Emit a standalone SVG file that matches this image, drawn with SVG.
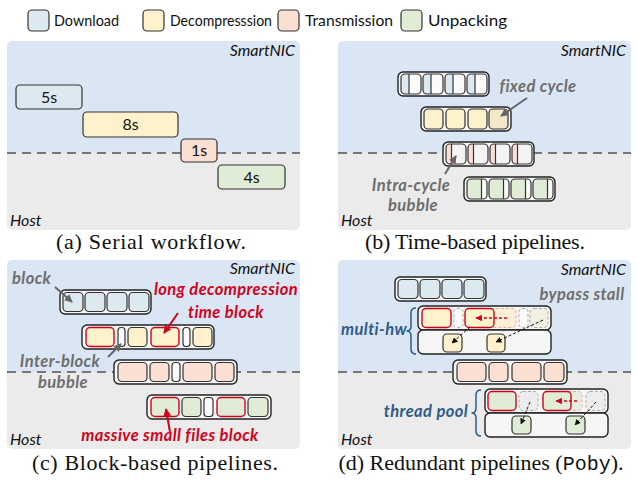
<svg xmlns="http://www.w3.org/2000/svg" width="637" height="480" viewBox="0 0 637 480">
<style>
.bgT{fill:#dbe6f4}
.bgB{fill:#ebebeb}
.dash{stroke:#777;stroke-width:2.2;stroke-dasharray:9 6;fill:none}
.cell{stroke:#333;stroke-width:1.2}
.dl{fill:#dde9f0}
.dc{fill:#fdf2cb}
.tr{fill:#fbdfd2}
.up{fill:#e0ecd6}
.wh{fill:#fafafa}
.red{stroke:#d0021b;stroke-width:1.4}
.cont{fill:#f6f6f7;stroke:#222;stroke-width:1.4}
.ghost{stroke:#aaa;stroke-width:1;stroke-dasharray:3 2}
.ghostR{stroke:#f0a8a8;stroke-width:1;stroke-dasharray:3 2}
.lbl{font-family:Lato,"Open Sans","Liberation Sans",sans-serif;font-size:16px;fill:#111;text-anchor:middle}
.leg{font-family:Lato,"Open Sans","Liberation Sans",sans-serif;font-size:16px;fill:#111}
.loc{font-family:Lato,"Open Sans","Liberation Sans",sans-serif;font-size:16px;font-style:italic;fill:#111}
.ann{font-family:Lato,"Open Sans","Liberation Sans",sans-serif;font-size:16.5px;font-style:italic;font-weight:bold;letter-spacing:0.4px}
.gray{fill:#6e6e6e}
.rtx{fill:#d0021b}
.btx{fill:#2e5c8a}
.cap{font-family:"Liberation Serif","Times New Roman",serif;font-size:22px;fill:#111;text-anchor:middle}
.ag{stroke:#666;stroke-width:2;fill:none}
.ar{stroke:#d0021b;stroke-width:2;fill:none}
.ad{stroke:#111;stroke-width:1;stroke-dasharray:3 2;fill:none}
.adr{stroke:#d0021b;stroke-width:1.3;stroke-dasharray:3 2;fill:none}
.split{stroke:#333;stroke-width:1.2}
</style>
<defs>
<marker id="mg" viewBox="0 0 10 10" refX="9" refY="5" markerWidth="4" markerHeight="4" orient="auto"><path d="M0,0 L10,5 L0,10 z" fill="#666"/></marker>
<marker id="mr" viewBox="0 0 10 10" refX="9" refY="5" markerWidth="4" markerHeight="4" orient="auto"><path d="M0,0 L10,5 L0,10 z" fill="#d0021b"/></marker>
<marker id="mk" viewBox="0 0 10 10" refX="9" refY="5" markerWidth="6" markerHeight="6" orient="auto"><path d="M0,0 L10,5 L0,10 z" fill="#111"/></marker>
<marker id="mrs" viewBox="0 0 10 10" refX="9" refY="5" markerWidth="5" markerHeight="5" orient="auto"><path d="M0,0 L10,5 L0,10 z" fill="#d0021b"/></marker>
<linearGradient id="gDL" x1="0" y1="0" x2="1" y2="0"><stop offset="0.4" stop-color="#dde9f0"/><stop offset="0.4" stop-color="#fafafa"/></linearGradient>
<linearGradient id="gTR" x1="0" y1="0" x2="1" y2="0"><stop offset="0.27" stop-color="#fbdfd2"/><stop offset="0.27" stop-color="#f4f4f4"/></linearGradient>
<linearGradient id="gUP" x1="0" y1="0" x2="1" y2="0"><stop offset="0.73" stop-color="#e0ecd6"/><stop offset="0.73" stop-color="#fafafa"/></linearGradient>
</defs>

<!-- Legend -->
<g id="legend">
<rect x="28" y="10" width="21" height="21" rx="4" class="cell dl"/>
<text x="54" y="26" class="leg" textLength="65" lengthAdjust="spacingAndGlyphs">Download</text>
<rect x="143" y="10" width="21" height="21" rx="4" class="cell dc"/>
<text x="170" y="26" class="leg" textLength="102" lengthAdjust="spacingAndGlyphs">Decompresssion</text>
<rect x="278" y="10" width="21" height="21" rx="4" class="cell tr"/>
<text x="305" y="26" class="leg" textLength="88" lengthAdjust="spacingAndGlyphs">Transmission</text>
<rect x="401" y="10" width="21" height="21" rx="4" class="cell up"/>
<text x="428" y="26" class="leg" textLength="79" lengthAdjust="spacingAndGlyphs">Unpacking</text>
</g>

<!-- Panel backgrounds -->
<g id="panel-a-bg">
<path d="M7,153 V46 a5,5 0 0 1 5,-5 H295 a5,5 0 0 1 5,5 V153 z" class="bgT"/>
<path d="M7,153 V225 a5,5 0 0 0 5,5 H295 a5,5 0 0 0 5,-5 V153 z" class="bgB"/>
<line x1="7" y1="153" x2="300" y2="153" class="dash"/>
<text x="295" y="56" class="loc" text-anchor="end">SmartNIC</text>
<text x="10" y="226" class="loc">Host</text>
</g>
<g id="panel-b-bg">
<path d="M338,153 V46 a5,5 0 0 1 5,-5 H626 a5,5 0 0 1 5,5 V153 z" class="bgT"/>
<path d="M338,153 V225 a5,5 0 0 0 5,5 H626 a5,5 0 0 0 5,-5 V153 z" class="bgB"/>
<line x1="338" y1="153" x2="631" y2="153" class="dash"/>
<text x="626" y="56" class="loc" text-anchor="end">SmartNIC</text>
<text x="341" y="226" class="loc">Host</text>
</g>
<g id="panel-c-bg">
<path d="M7,372 V265 a5,5 0 0 1 5,-5 H295 a5,5 0 0 1 5,5 V372 z" class="bgT"/>
<path d="M7,372 V444 a5,5 0 0 0 5,5 H295 a5,5 0 0 0 5,-5 V372 z" class="bgB"/>
<line x1="7" y1="372" x2="300" y2="372" class="dash"/>
<text x="295" y="274" class="loc" text-anchor="end">SmartNIC</text>
<text x="10" y="445" class="loc">Host</text>
</g>
<g id="panel-d-bg">
<path d="M338,372 V265 a5,5 0 0 1 5,-5 H626 a5,5 0 0 1 5,5 V372 z" class="bgT"/>
<path d="M338,372 V444 a5,5 0 0 0 5,5 H626 a5,5 0 0 0 5,-5 V372 z" class="bgB"/>
<line x1="338" y1="372" x2="631" y2="372" class="dash"/>
<text x="626" y="275" class="loc" text-anchor="end">SmartNIC</text>
<text x="341" y="445" class="loc">Host</text>
</g>

<!-- Panel (a) -->
<g id="a-download"><rect x="16" y="85" width="66" height="24" rx="4" class="cell dl"/><text x="49" y="103" class="lbl">5s</text></g>
<g id="a-decomp"><rect x="83" y="112" width="95" height="25" rx="4" class="cell dc"/><text x="130.5" y="130" class="lbl">8s</text></g>
<g id="a-trans"><rect x="181" y="139" width="36" height="23" rx="4" class="cell tr"/><text x="199" y="156" class="lbl">1s</text></g>
<g id="a-unpack"><rect x="218" y="165" width="67" height="24" rx="4" class="cell up"/><text x="251.5" y="183" class="lbl">4s</text></g>
<text x="151" y="249" class="cap" textLength="190" lengthAdjust="spacing">(a) Serial workflow.</text>

<!-- Panel (b) -->
<g id="b-download">
<rect x="398" y="72" width="91" height="24" rx="5" class="cont"/>
<rect x="401" y="74" width="20" height="20" rx="4" class="cell" fill="url(#gDL)"/><line x1="409" y1="74" x2="409" y2="94" class="split"/>
<rect x="423" y="74" width="20" height="20" rx="4" class="cell" fill="url(#gDL)"/><line x1="431" y1="74" x2="431" y2="94" class="split"/>
<rect x="445" y="74" width="20" height="20" rx="4" class="cell" fill="url(#gDL)"/><line x1="453" y1="74" x2="453" y2="94" class="split"/>
<rect x="467" y="74" width="20" height="20" rx="4" class="cell" fill="url(#gDL)"/><line x1="475" y1="74" x2="475" y2="94" class="split"/>
</g>
<g id="b-decomp">
<rect x="421" y="107" width="90" height="24" rx="5" class="cont"/>
<rect x="424" y="109" width="19" height="20" rx="4" class="cell dc"/>
<rect x="446" y="109" width="19" height="20" rx="4" class="cell dc"/>
<rect x="468" y="109" width="19" height="20" rx="4" class="cell dc"/>
<rect x="489" y="109" width="19" height="20" rx="4" class="cell" fill="#f3e9c9"/>
</g>
<g id="b-trans">
<rect x="443" y="142" width="91" height="24" rx="5" class="cont"/>
<rect x="446" y="144" width="20" height="20" rx="4" class="cell" fill="url(#gTR)"/><line x1="451.5" y1="144" x2="451.5" y2="164" class="split"/>
<rect x="468" y="144" width="20" height="20" rx="4" class="cell" fill="url(#gTR)"/><line x1="473.5" y1="144" x2="473.5" y2="164" class="split"/>
<rect x="490" y="144" width="20" height="20" rx="4" class="cell" fill="url(#gTR)"/><line x1="495.5" y1="144" x2="495.5" y2="164" class="split"/>
<rect x="512" y="144" width="20" height="20" rx="4" class="cell" fill="url(#gTR)"/><line x1="517.5" y1="144" x2="517.5" y2="164" class="split"/>
</g>
<g id="b-unpack">
<rect x="464" y="177" width="91" height="24" rx="5" class="cont"/>
<rect x="467" y="179" width="20" height="20" rx="4" class="cell" fill="url(#gUP)"/><line x1="481.5" y1="179" x2="481.5" y2="199" class="split"/>
<rect x="489" y="179" width="20" height="20" rx="4" class="cell" fill="url(#gUP)"/><line x1="503.5" y1="179" x2="503.5" y2="199" class="split"/>
<rect x="511" y="179" width="20" height="20" rx="4" class="cell" fill="url(#gUP)"/><line x1="525.5" y1="179" x2="525.5" y2="199" class="split"/>
<rect x="533" y="179" width="20" height="20" rx="4" class="cell" fill="url(#gUP)"/><line x1="547.5" y1="179" x2="547.5" y2="199" class="split"/>
</g>
<g id="b-labels">
<text x="538" y="92" class="ann gray" text-anchor="middle">fixed cycle</text>
<text x="411" y="191" class="ann gray" text-anchor="middle">Intra-cycle</text>
<text x="413" y="211" class="ann gray" text-anchor="middle">bubble</text>
</g>
<text x="475" y="249" class="cap" textLength="220" lengthAdjust="spacing">(b) Time-based pipelines.</text>

<!-- Panel (c) -->
<g id="c-download">
<rect x="60" y="290" width="91" height="24" rx="5" class="cont"/>
<rect x="63" y="292.5" width="20" height="19" rx="4" class="cell dl"/>
<rect x="85" y="292.5" width="20" height="19" rx="4" class="cell dl"/>
<rect x="107" y="292.5" width="20" height="19" rx="4" class="cell dl"/>
<rect x="129" y="292.5" width="20" height="19" rx="4" class="cell dl"/>
</g>
<g id="c-decomp">
<rect x="82" y="325" width="132" height="24" rx="5" class="cont"/>
<rect x="86" y="327.5" width="28" height="19" rx="4" class="dc red"/>
<rect x="118" y="327.5" width="7" height="19" rx="3" class="cell wh"/>
<rect x="128" y="327.5" width="19" height="19" rx="4" class="cell dc"/>
<rect x="151" y="327.5" width="28" height="19" rx="4" class="dc red"/>
<rect x="183" y="327.5" width="7" height="19" rx="3" class="cell wh"/>
<rect x="193" y="327.5" width="19" height="19" rx="4" class="cell dc"/>
</g>
<g id="c-trans">
<rect x="114" y="360" width="123" height="24" rx="5" class="cont"/>
<rect x="118" y="362.5" width="29" height="19" rx="4" class="cell tr"/>
<rect x="150" y="362.5" width="19" height="19" rx="4" class="cell tr"/>
<rect x="172" y="362.5" width="8" height="19" rx="3" class="cell wh"/>
<rect x="183" y="362.5" width="29" height="19" rx="4" class="cell tr"/>
<rect x="215" y="362.5" width="19" height="19" rx="4" class="cell tr"/>
</g>
<g id="c-unpack">
<rect x="147" y="395" width="124" height="24" rx="5" class="cont"/>
<rect x="151" y="397.5" width="28" height="19" rx="4" class="up red"/>
<rect x="182" y="397.5" width="19" height="19" rx="4" class="cell up"/>
<rect x="204" y="397.5" width="9" height="19" rx="3" class="cell wh"/>
<rect x="217" y="397.5" width="28" height="19" rx="4" class="up red"/>
<rect x="248" y="397.5" width="20" height="19" rx="4" class="cell up"/>
</g>
<g id="c-labels">
<text x="12" y="284" class="ann gray">block</text>
<text x="226" y="295" class="ann rtx" text-anchor="middle">long decompression</text>
<text x="226" y="318" class="ann rtx" text-anchor="middle">time block</text>
<text x="60" y="367" class="ann gray" text-anchor="middle">Inter-block</text>
<text x="63" y="388" class="ann gray" text-anchor="middle">bubble</text>
<text x="170" y="441" class="ann rtx" text-anchor="middle">massive small files block</text>
</g>
<text x="155" y="470" class="cap" textLength="246" lengthAdjust="spacing">(c) Block-based pipelines.</text>

<!-- Panel (d) -->
<g id="d-download">
<rect x="395" y="277" width="91" height="24" rx="5" class="cont"/>
<rect x="398" y="279.5" width="20" height="19" rx="4" class="cell dl"/>
<rect x="420" y="279.5" width="20" height="19" rx="4" class="cell dl"/>
<rect x="442" y="279.5" width="20" height="19" rx="4" class="cell dl"/>
<rect x="464" y="279.5" width="20" height="19" rx="4" class="cell dl"/>
</g>
<g id="d-decomp-multihw">
<rect x="418" y="306" width="133" height="24" rx="5" class="cont"/>
<rect x="418" y="330" width="133" height="24" rx="5" class="cont"/>
<rect x="422" y="308.5" width="29" height="19" rx="4" class="dc red"/>
<rect x="454" y="308.5" width="9" height="19" rx="3" class="ghost" fill="#fbfbfb"/>
<rect x="487" y="308.5" width="29" height="19" rx="4" class="ghostR" fill="#fcf0d6"/>
<rect x="465" y="308.5" width="29" height="19" rx="4" class="dc red"/>
<rect x="519" y="308.5" width="9" height="19" rx="3" class="ghost" fill="#fbfbfb"/>
<rect x="530" y="308.5" width="18" height="19" rx="4" class="ghost" fill="#f4efe3"/>
<rect x="443" y="334" width="19" height="18" rx="4" class="cell dc"/>
<rect x="487" y="334" width="18" height="18" rx="4" class="cell dc"/>
</g>
<g id="d-trans">
<rect x="453" y="360" width="114" height="24" rx="5" class="cont"/>
<rect x="457" y="362.5" width="29" height="19" rx="4" class="cell tr"/>
<rect x="489" y="362.5" width="19" height="19" rx="4" class="cell tr"/>
<rect x="512" y="362.5" width="29" height="19" rx="4" class="cell tr"/>
<rect x="544" y="362.5" width="20" height="19" rx="4" class="cell tr"/>
</g>
<g id="d-unpack-pool">
<rect x="485" y="389" width="123" height="24" rx="5" class="cont"/>
<rect x="485" y="413" width="123" height="24" rx="5" class="cont"/>
<rect x="488" y="391.5" width="28" height="19" rx="4" class="up red"/>
<rect x="519" y="391.5" width="19" height="19" rx="4" class="ghost" fill="#ededed"/>
<rect x="554" y="391.5" width="28" height="19" rx="4" class="ghostR" fill="#e6efdf"/>
<rect x="543" y="391.5" width="28" height="19" rx="4" class="up red"/>
<rect x="586" y="391.5" width="19" height="19" rx="4" class="ghost" fill="#ededed"/>
<rect x="512" y="416" width="19" height="18" rx="4" class="cell up"/>
<rect x="566" y="416" width="19" height="18" rx="4" class="cell up"/>
</g>
<g id="d-labels">
<text x="582" y="300" class="ann gray" text-anchor="middle">bypass stall</text>
<text x="374" y="335" class="ann btx" text-anchor="middle">multi-hw</text>
<path d="M416,308 Q411,308 411,313 L411,326 Q411,331 406.5,331 Q411,331 411,336 L411,349 Q411,354 416,354" fill="none" stroke="#2e5c8a" stroke-width="1.5"/>
<text x="426" y="417" class="ann btx" text-anchor="middle">thread pool</text>
<path d="M481,390 Q476,390 476,395 L476,408 Q476,413 471.5,413 Q476,413 476,418 L476,431 Q476,436 481,436" fill="none" stroke="#2e5c8a" stroke-width="1.5"/>
</g>
<text x="481" y="470" class="cap">(d) Redundant pipelines (<tspan font-family="'Liberation Mono','Courier New',monospace" font-size="20">Poby</tspan>).</text>

<!-- Connectors -->
<g id="connectors">
<line x1="527" y1="98" x2="501" y2="116" class="ag" marker-end="url(#mg)"/>
<line x1="445" y1="174" x2="456" y2="156" class="ag" marker-end="url(#mg)"/>
<line x1="55" y1="287" x2="72" y2="302" class="ag" marker-end="url(#mg)"/>
<line x1="178" y1="313" x2="164" y2="333" class="ar" marker-end="url(#mr)"/>
<line x1="108" y1="357" x2="121" y2="344" class="ag" marker-end="url(#mg)"/>
<line x1="170" y1="432" x2="166" y2="409" class="ar" marker-end="url(#mr)"/>
<line x1="507" y1="318" x2="476" y2="318" class="adr" marker-end="url(#mrs)"/>
<line x1="470" y1="327" x2="452" y2="343" class="ad" marker-end="url(#mk)"/>
<line x1="543" y1="320" x2="496" y2="342" class="ad" marker-end="url(#mk)"/>
<line x1="577" y1="401" x2="556" y2="401" class="adr" marker-end="url(#mrs)"/>
<line x1="530" y1="402" x2="521" y2="424" class="ad" marker-end="url(#mk)"/>
<line x1="596" y1="402" x2="575" y2="425" class="ad" marker-end="url(#mk)"/>
</g>
</svg>
